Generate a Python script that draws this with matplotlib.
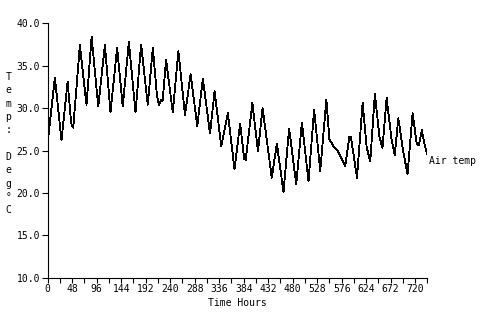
import matplotlib
matplotlib.use("Agg")
import matplotlib.pyplot as plt
from matplotlib.ticker import MultipleLocator, FormatStrFormatter

plt.rcParams['font.family'] = ['DejaVu Sans Mono']

# hourly readings picked off the trace (peaks, troughs and kinks)
hours = [0, 1, 14, 27, 39, 46, 50, 63, 76, 86, 99, 112, 123, 136, 147, 159,
         172, 183, 196, 206, 214, 218, 222, 225, 232, 245, 256, 269, 280, 293,
         304, 318, 327, 340, 353, 366, 377, 385, 388, 401, 412, 421, 439, 449,
         462, 473, 487, 498, 511, 522, 534, 546, 552, 560, 568, 577, 583, 591,
         594, 606, 617, 625, 632, 641, 650, 656, 664, 674, 680, 687, 696, 705,
         715, 723, 727, 733, 738, 744]
air_temp = [27.3, 26.5, 33.6, 26.2, 33.1, 28.2, 27.7, 37.4, 30.4, 38.4, 30.2,
            37.4, 29.5, 37.1, 30.2, 37.8, 29.5, 37.5, 30.4, 37.1, 31.5, 30.3,
            31.0, 30.8, 35.7, 29.5, 36.7, 29.2, 34.0, 27.9, 33.5, 27.0, 32.0,
            25.5, 29.4, 22.8, 28.2, 24.0, 23.9, 30.6, 24.9, 30.0, 21.8, 25.8,
            20.1, 27.6, 21.0, 28.3, 21.4, 29.8, 22.6, 31.0, 26.3, 25.5, 25.0,
            23.9, 23.2, 26.6, 26.6, 21.8, 30.6, 25.4, 23.7, 31.7, 26.6, 25.3,
            31.2, 26.2, 24.5, 28.8, 25.1, 22.2, 29.4, 25.8, 25.6, 27.4, 25.8,
            24.5]
series_name = "Air temp"
ylabel = "Temp: Deg°C"
xlabel = "Time Hours"

fig = plt.figure(figsize=(4.81, 3.15), dpi=100)
ax = fig.add_axes([0.0992, 0.1184, 0.7894, 0.8076])

ax.plot(hours, air_temp, color="black", lw=0.6, antialiased=False)
ax.annotate(series_name, xy=(hours[-1], air_temp[-1]), xytext=(1, -1),
            textcoords="offset points", ha="left", va="top", fontsize=7,
            annotation_clip=False)

ax.set_xlim(0, 744)
ax.set_ylim(10, 40)
ax.xaxis.set_major_locator(MultipleLocator(48))
ax.xaxis.set_minor_locator(MultipleLocator(24))
ax.yaxis.set_major_locator(MultipleLocator(5))
ax.yaxis.set_major_formatter(FormatStrFormatter("%.1f"))
ax.tick_params(axis="both", which="both", labelsize=7, width=0.8,
               color="black", pad=1)
ax.tick_params(axis="x", which="both", length=3.5)
ax.tick_params(axis="y", which="both", length=4.5)
for s in ["top", "right"]:
    ax.spines[s].set_visible(False)
for s in ["left", "bottom"]:
    ax.spines[s].set_linewidth(0.8)

ax.set_xlabel(xlabel, fontsize=7, labelpad=3)
fig.text(0.017, 0.544, "\n".join(ylabel), ha="center", va="center",
         fontsize=7, linespacing=1.42)

fig.savefig("out.png", dpi=100)
